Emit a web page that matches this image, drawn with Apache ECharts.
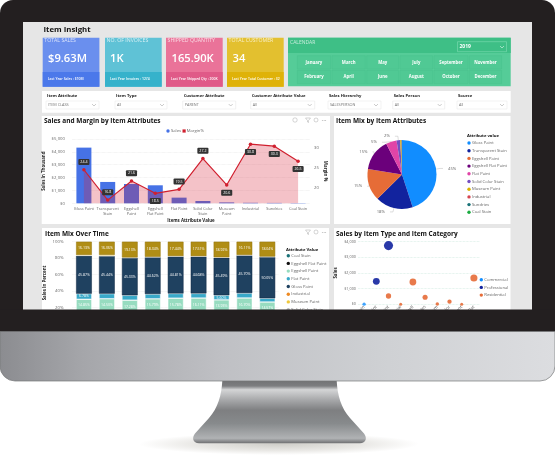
<!DOCTYPE html>
<html lang="en">
  <head>
    <meta charset="UTF-8" />
    <title>Item Insight</title>
    <script src="https://cdn.jsdelivr.net/npm/echarts@6/dist/echarts.min.js"></script>
    <style>
      html, body { margin: 0; background: #fff; }
    </style>
  </head>
  <body>
    <div id="main" style="width: 555px; height: 456px"></div>
    <script type="text/javascript">
      // KPI cards
      const kpiNames = ['TOTAL SALES', 'NO. OF INVOICES', 'SHIPPED QUANTITY', 'TOTAL CUSTOMER'];
      const kpiValues = ['$9.63M', '1K', '165.90K', '34'];
      const kpiFooters = ['Last Year Sales : ', 'Last Year Invoices : ', 'Last Year Shipped Qty : ', 'Last Year Total Customer : '];
      const kpiLastYear = ['$10M', '1274', '200K', '32'];

      // calendar and slicers
      const monthsTop = ['January', 'March', 'May', 'July', 'September', 'November'];
      const monthsBottom = ['February', 'April', 'June', 'August', 'October', 'December'];
      const filterNames = ['Item Attribute', 'Item Type', 'Customer Attribute', 'Customer Attribute Value', 'Sales Hierarchy', 'Sales Person', 'Source'];
      const filterValues = ['ITEM CLASS', 'All', 'PARENT', 'All', 'SALESPERSON', 'All', 'All'];

      // sales and margin
      const attributes = ['Gloss Paint', 'Transparent\nStain', 'Eggshell\nPaint', 'Eggshell\nFlat Paint', 'Flat Paint', 'Solid Color\nStain', 'Museum\nPaint', 'Industrial', 'Sundries', 'Coal Stain'];
      const salesValues = [4330, 1660, 1500, 1400, 440, 180, 70, 40, 30, 20];
      const marginValues = [24.4, 16.8, 21.6, 18.5, 19.5, 27.2, 20.6, 30.8, 30.3, 26.5];
      const marginLabelSide = ['top', 'top', 'top', 'bottom', 'top', 'top', 'bottom', 'bottom', 'bottom', 'bottom'];

      // item mix pie
      const mixNames = ['Gloss Paint', 'Transparent Stain', 'Eggshell Paint', 'Eggshell Flat Paint', 'Flat Paint', 'Solid Color Stain', 'Museum Paint', 'Industrial', 'Sundries', 'Coal Stain'];
      const mixValues = [45, 17.6, 15, 14.9, 5, 1.7, 0.5, 0.2, 0.1, 0.05];
      const mixColors = ['#118DFF', '#12239E', '#E66C37', '#6B007B', '#E044A7', '#744EC2', '#D9B300', '#D64550', '#197278', '#1AAB40'];

      // item mix over time, bottom of each bar is hidden behind the bezel
      const periods = ['Jan', 'Feb', 'Mar', 'Apr', 'May', 'Jun', 'Jul', 'Aug', 'Sep'];
      const coalStain = [0, 0, 0, 0, 0, 0, 0, 0, 0];
      const eggshellFlat = [15.37, 16.4, 11.86, 14.95, 15.77, 15.6, 15.56, 15.09, 12.34];
      const eggshellPaint = [14.85, 14.5, 17.28, 15.79, 15.78, 16.11, 13.93, 16.7, 14.57];
      const flatPaint = [6.78, 6.1, 5.9, 5.8, 5.7, 5.6, 5.6, 5.9, 4.5];
      const glossPaint = [45.87, 45.44, 45.33, 44.62, 44.81, 44.68, 45.49, 45.7, 50.05];
      const museumPaint = [1, 1.5, 0.5, 0.5, 0.5, 0.5, 0.5, 0.5, 0.5];
      const transparentStain = [16.13, 16.06, 19.13, 18.34, 17.44, 17.51, 18.92, 16.11, 18.04];
      const mixLegendNames = ['Coal Stain', 'Eggshell Flat Paint', 'Eggshell Paint', 'Flat Paint', 'Gloss Paint', 'Industrial', 'Museum Paint', 'Solid Color Stain'];
      const mixLegendColors = ['#197278', '#111111', '#97dcc0', '#38a9c9', '#1f4160', '#ee8a22', '#f0c83c', '#bbbbbb'];

      // sales by item type
      const itemTypes = ['Coal Stain', 'Flat Paint', 'Gloss Paint', 'Industrial', 'Eggshell', 'Sundries', 'Museum', 'Solid Color', 'Transparent', 'Eggshell Flat'];
      const commercial = [10, null, null, null, null, null, null, null, null, null];
      const professional = [null, 1470, 3750, null, null, null, null, null, null, null];
      const residential = [null, null, 530, 0, 1425, 450, 20, 170, 0, 1680];
      const categoryNames = ['Commercial', 'Professional', 'Residential'];
      const categoryColors = ['#118DFF', '#12239E', '#E66C37'];

      const FONT = '"Open Sans", sans-serif';
      const GRAY = '#666';

      // the monitor foot has no built in shape
      echarts.graphic.registerShape('monitorStand', echarts.graphic.extendPath(
        'M222.3 381 C221.5 395 218 408 209 418 L195 433.5 C191.5 438 193 443 199 443.3 L360 443.3 C366 443 367.5 438 364 433.5 L350 418 C341 408 337.5 395 336.7 381 Z'
      ));

      function box(x, y, width, height, fill, r, z) {
        return { type: 'rect', z: z || 0, shape: { x, y, width, height, r: r || 0 }, style: { fill } };
      }
      function label(x, y, text, size, fill, weight, align) {
        return {
          type: 'text', z: 1,
          style: { x, y, text, fontSize: size, fontFamily: FONT, fontWeight: weight || 'normal', fill, align: align || 'left', verticalAlign: 'middle' }
        };
      }
      function chevron(x, y, color) {
        return {
          type: 'polyline', z: 1,
          shape: { points: [[x - 2, y - 1], [x, y + 1], [x + 2, y - 1]] },
          style: { stroke: color, fill: null, lineWidth: 0.5 }
        };
      }
      function panelIcons(y, withInfo) {
        const stroke = '#aaa';
        const icons = [
          { type: 'polygon', z: 1, shape: { points: [[305.5, y - 2], [310.5, y - 2], [308.5, y + 0.5], [308.5, y + 2.5], [307.5, y + 2], [307.5, y + 0.5]] }, style: { stroke, fill: null, lineWidth: 0.5 } },
          { type: 'circle', z: 1, shape: { cx: 316, cy: y, r: 2 }, style: { stroke, fill: null, lineWidth: 0.5 } },
          label(324, y, '···', 6, stroke, 'bold', 'center')
        ];
        if (withInfo) icons.push({ type: 'circle', z: 1, shape: { cx: 295, cy: y, r: 2.2 }, style: { stroke, fill: null, lineWidth: 0.5 } });
        return icons;
      }
      // legend columns sit closer to their dots than the legend component allows
      function legendColumn(x, y, names, colors) {
        const items = [];
        names.forEach((name, i) => {
          items.push(
            { type: 'circle', z: 1, shape: { cx: x + 2, cy: y + i * 7.7, r: 1.7 }, style: { fill: colors[i] } },
            label(x + 5, y + i * 7.7, name, 4.2, GRAY)
          );
        });
        return items;
      }

      // monitor and report background
      const graphics = [
        {
          type: 'circle', z: 0, x: 279, y: 444, scaleY: 11 / 140, shape: { cx: 0, cy: 0, r: 140 },
          style: { fill: new echarts.graphic.RadialGradient(0.5, 0.5, 0.5, [{ offset: 0, color: '#cfcec9' }, { offset: 0.6, color: '#e9e8e5' }, { offset: 1, color: '#ffffff' }]) }
        },
        box(0, 0, 555, 333, '#231f20', [13, 13, 0, 0]),
        box(23, 22, 509, 288, '#e6e6e6'),
        label(43.5, 30, 'Item Insight', 7.8, '#111', 'bold')
      ];

      // KPI cards
      const kpiX = [42.7, 105, 166, 227];
      const kpiTop = ['#6a8fee', '#5fc2d6', '#ea7399', '#e3c02f'];
      const kpiBottom = ['#4b78ea', '#36b2cb', '#e05a88', '#dfb208'];
      const kpiValueX = [48, 110, 171.5, 232.5];
      kpiNames.forEach((name, i) => {
        graphics.push(
          box(kpiX[i], 37.7, 56.7, 49, kpiTop[i]),
          box(kpiX[i], 72, 56.7, 14.7, kpiBottom[i]),
          label(kpiX[i] + 1.6, 41, name, 5.2, 'rgba(255,255,255,0.75)'),
          label(kpiValueX[i], 58.5, kpiValues[i], 11.2, '#fff', '600'),
          label(kpiX[i] + 5, 79.5, kpiFooters[i] + kpiLastYear[i], 3.4, '#fff', '600')
        );
      });

      // calendar slicer
      graphics.push(
        box(288, 37.7, 222.7, 48.6, '#55cc98'),
        box(288, 37.7, 222.7, 15.3, '#3ebf86'),
        label(290, 43, 'CALENDAR', 5, 'rgba(255,255,255,0.7)'),
        { type: 'rect', z: 1, shape: { x: 457.5, y: 41.7, width: 49, height: 10 }, style: { fill: '#3ebf86', stroke: '#7fdcb4', lineWidth: 0.6 } },
        label(459.5, 47, '2019', 5, '#fff', 'bold'),
        chevron(502, 47, '#fff')
      );
      const monthX = [297.3, 332, 366.7, 400, 434, 469.3];
      const monthW = [33.3, 33.3, 32, 32.7, 34, 32.3];
      [monthsTop, monthsBottom].forEach((row, r) => {
        const y = r === 0 ? 55.7 : 70.3;
        row.forEach((m, i) => {
          graphics.push(
            { type: 'rect', z: 1, shape: { x: monthX[i], y, width: monthW[i], height: 13.3 }, style: { fill: '#50c994', stroke: '#49c28d', lineWidth: 0.6 } },
            label(monthX[i] + monthW[i] / 2, y + 6.8, m, 4.3, '#fff', 'bold', 'center')
          );
        });
      });

      // slicer bar
      const filterX = [46, 115, 182.7, 250.7, 328, 392.7, 457];
      const filterW = [53, 52, 53, 64, 53, 52, 50];
      graphics.push(box(42, 91, 468.7, 21.7, '#fff'));
      filterNames.forEach((name, i) => {
        graphics.push(
          label(filterX[i] + 1, 96, name, 4.2, '#222', 'bold'),
          { type: 'rect', z: 1, shape: { x: filterX[i], y: 101, width: filterW[i], height: 8 }, style: { fill: '#fff', stroke: '#e4e4e4', lineWidth: 0.5 } },
          label(filterX[i] + 2, 105, filterValues[i], 3.8, '#777'),
          chevron(filterX[i] + filterW[i] - 5, 105, '#999')
        );
      });

      // chart panels
      graphics.push(
        box(41.7, 116, 288.3, 108, '#fff'),
        box(334, 116, 176.5, 108, '#fff'),
        box(42, 228, 287, 90, '#fff'),
        box(334, 228, 176.5, 90, '#fff'),
        label(44, 121.5, 'Sales and Margin by Item Attributes', 6.5, '#111', 'bold'),
        label(336, 121.5, 'Item Mix by Item Attributes', 6.5, '#111', 'bold'),
        label(45, 233.7, 'Item Mix Over Time', 6.5, '#111', 'bold'),
        label(336, 233.7, 'Sales by Item Type and Item Category', 6.5, '#111', 'bold'),
        label(467, 136, 'Attribute value', 4.2, '#111', 'bold'),
        label(286, 249.7, 'Attribute Value', 4.2, '#111', 'bold'),
        ...panelIcons(120, true),
        ...panelIcons(232, false),
        { type: 'circle', z: 1, shape: { cx: 168, cy: 131, r: 1.7 }, style: { fill: '#4672e6' } },
        label(171, 131, 'Sales', 4.2, GRAY),
        box(182.5, 129.4, 3.2, 3.2, '#d0202f', 0, 1),
        label(186.7, 131, 'Margin%', 4.2, GRAY),
        ...legendColumn(467, 143, mixNames, mixColors),
        ...legendColumn(286.3, 255.7, mixLegendNames, mixLegendColors),
        ...legendColumn(479.3, 279.7, categoryNames, categoryColors)
      );

      // bezel strip and stand go over the bottom charts
      const standFill = new echarts.graphic.LinearGradient(0, 0, 0, 1, [
        { offset: 0, color: '#727375' },
        { offset: 0.08, color: '#7d7e80' },
        { offset: 0.14, color: '#d4d5d6' },
        { offset: 0.3, color: '#a8a9ab' },
        { offset: 0.47, color: '#7e7f81' },
        { offset: 0.68, color: '#878a8c' },
        { offset: 0.92, color: '#b0b2b4' },
        { offset: 1, color: '#6e6f71' }
      ]);
      graphics.push(
        box(0, 309.5, 555, 23, '#231f20', 0, 100),
        { type: 'monitorStand', z: 100, style: { fill: standFill } },
        {
          type: 'rect', z: 101,
          shape: { x: 0, y: 331.5, width: 555, height: 49.5, r: [0, 0, 15, 15] },
          style: {
            fill: new echarts.graphic.LinearGradient(0, 0, 1, 0, [
              { offset: 0, color: '#8b8c90' },
              { offset: 0.15, color: '#a5a6aa' },
              { offset: 0.4, color: '#bfc0c4' },
              { offset: 0.7, color: '#cfd1d4' },
              { offset: 1, color: '#dcdde0' }
            ]),
            stroke: '#77787a', lineWidth: 0.7
          }
        }
      );

      function axisNameStyle() {
        return { fontSize: 4.4, fontWeight: 'bold', color: '#222', fontFamily: FONT };
      }
      function tickStyle(extra) {
        return Object.assign({ fontSize: 4.3, color: GRAY, fontFamily: FONT }, extra);
      }
      const dotted = { show: true, lineStyle: { type: 'dotted', color: '#e2e2e2', width: 0.6 } };
      const usd = (v) => '$' + v.toLocaleString('en-US');
      const barLabel = { show: true, color: '#fff', fontSize: 3.5, fontFamily: FONT, formatter: (p) => p.value.toFixed(2) + '%' };
      const bubbleSize = (v) => 3 + 0.1 * Math.sqrt(v);

      function stackBar(name, data, color, border, lbl) {
        return {
          type: 'bar', name, data, stack: 'mix', xAxisIndex: 1, yAxisIndex: 2, barWidth: 15.7,
          itemStyle: { color, borderColor: border, borderWidth: 0.5 },
          label: lbl || { show: false }
        };
      }

      const myChart = echarts.init(document.getElementById('main'));
      myChart.setOption({
        animation: false,
        graphic: graphics,
        textStyle: { fontFamily: FONT },
        grid: [
          { left: 72, right: 245, top: 139, height: 64.3 },
          { left: 72.5, width: 206.3, top: 241.7, height: 82.5 },
          { left: 358, width: 122, top: 241.7, height: 62.6 }
        ],
        xAxis: [
          {
            type: 'category', gridIndex: 0, data: attributes,
            name: 'Items Attribute Value', nameLocation: 'middle', nameGap: 15.7, nameMoveOverlap: false, nameTextStyle: axisNameStyle(),
            axisLine: { show: false }, axisTick: { show: false },
            axisLabel: tickStyle({ fontSize: 3.9, margin: 3, interval: 0, lineHeight: 4.8 })
          },
          {
            type: 'category', gridIndex: 1, data: periods,
            axisLine: { show: false }, axisTick: { show: false },
            axisLabel: tickStyle({ margin: 3 })
          },
          {
            type: 'category', gridIndex: 2, data: itemTypes,
            axisLine: { show: false }, axisTick: { show: false },
            axisLabel: tickStyle({ margin: 2, interval: 0, rotate: 45, color: '#555' })
          }
        ],
        yAxis: [
          {
            type: 'value', gridIndex: 0, min: 0, max: 5000, interval: 1000,
            name: 'Sales In Thousand', nameLocation: 'middle', nameGap: 26, nameMoveOverlap: false, nameTextStyle: axisNameStyle(),
            axisLabel: tickStyle({ margin: 7, formatter: usd }),
            splitLine: dotted
          },
          {
            type: 'value', gridIndex: 0, position: 'right', min: 16, max: 32.1,
            name: 'Margin %', nameLocation: 'middle', nameGap: 13, nameMoveOverlap: false, nameRotate: -90, nameTextStyle: axisNameStyle(),
            axisLine: { show: false }, axisTick: { show: false }, splitLine: { show: false },
            axisLabel: tickStyle({ margin: 4, customValues: [20, 25, 30] })
          },
          {
            type: 'value', gridIndex: 1, min: 0, max: 100, interval: 20,
            name: 'Sales In Percent', nameLocation: 'middle', nameGap: 25.5, nameMoveOverlap: false, nameTextStyle: axisNameStyle(),
            axisLabel: tickStyle({ margin: 9, formatter: '{value}%' }),
            splitLine: dotted
          },
          {
            type: 'value', gridIndex: 2, min: 0, max: 4000, interval: 1000,
            name: 'Sales', nameLocation: 'middle', nameGap: 20, nameMoveOverlap: false, nameTextStyle: axisNameStyle(),
            axisLabel: tickStyle({ fontSize: 3.8, margin: 2, formatter: usd }),
            splitLine: { show: true, lineStyle: { type: 'dotted', color: '#cfe9df', width: 0.7 } }
          }
        ],
        series: [
          {
            type: 'bar', name: 'Sales', data: salesValues, xAxisIndex: 0, yAxisIndex: 0, barWidth: 15,
            itemStyle: { color: '#4672e6' }
          },
          {
            type: 'line', name: 'Margin%', xAxisIndex: 0, yAxisIndex: 1,
            data: marginValues.map((value, i) => ({ value, label: { position: marginLabelSide[i] } })),
            symbol: 'circle', symbolSize: 3.5,
            lineStyle: { color: '#d0202f', width: 1.2 },
            itemStyle: { color: '#d0202f' },
            areaStyle: { color: 'rgba(217,35,58,0.4)' },
            label: {
              show: true, color: '#fff', fontSize: 3.6, fontFamily: FONT, distance: 3,
              backgroundColor: '#333', borderRadius: 1, padding: [1, 2], formatter: (p) => p.value.toFixed(1)
            }
          },
          {
            type: 'pie', name: 'Item Mix', center: [402, 174.5], radius: [0, 34.5], startAngle: 90,
            percentPrecision: 0,
            data: mixNames.map((name, i) => ({
              name, value: mixValues[i],
              itemStyle: { color: mixColors[i] },
              label: { show: i < 6 }, labelLine: { show: i < 6 }
            })),
            label: { color: GRAY, fontSize: 4.2, fontFamily: FONT, formatter: '{d}%' },
            labelLine: { length: 4, length2: 3, lineStyle: { color: '#bbb', width: 0.5 } }
          },
          stackBar('Coal Stain', coalStain, '#197278', '#197278'),
          stackBar('Eggshell Flat Paint', eggshellFlat, '#111111', '#111111'),
          stackBar('Eggshell Paint', eggshellPaint, '#97dcc0', '#ffffff', barLabel),
          stackBar('Flat Paint', flatPaint, '#38a9c9', '#ffffff', Object.assign({}, barLabel, {
            formatter: (p) => (p.dataIndex === 0 || p.dataIndex === 6 ? p.value.toFixed(2) + '%' : '')
          })),
          stackBar('Gloss Paint', glossPaint, '#1f4160', '#0f2740', barLabel),
          stackBar('Museum Paint', museumPaint, '#f0d060', '#ffffff'),
          stackBar('Transparent Stain', transparentStain, '#b08d15', '#94740d', barLabel),
          {
            type: 'scatter', name: 'Commercial', data: commercial, xAxisIndex: 2, yAxisIndex: 3,
            symbolSize: bubbleSize, itemStyle: { color: categoryColors[0] }
          },
          {
            type: 'scatter', name: 'Professional', data: professional, xAxisIndex: 2, yAxisIndex: 3,
            symbolSize: bubbleSize, itemStyle: { color: categoryColors[1], opacity: 0.9 }
          },
          {
            type: 'scatter', name: 'Residential', data: residential, xAxisIndex: 2, yAxisIndex: 3,
            symbolSize: bubbleSize, itemStyle: { color: categoryColors[2], opacity: 0.9 }
          }
        ]
      });
    </script>
  </body>
</html>
